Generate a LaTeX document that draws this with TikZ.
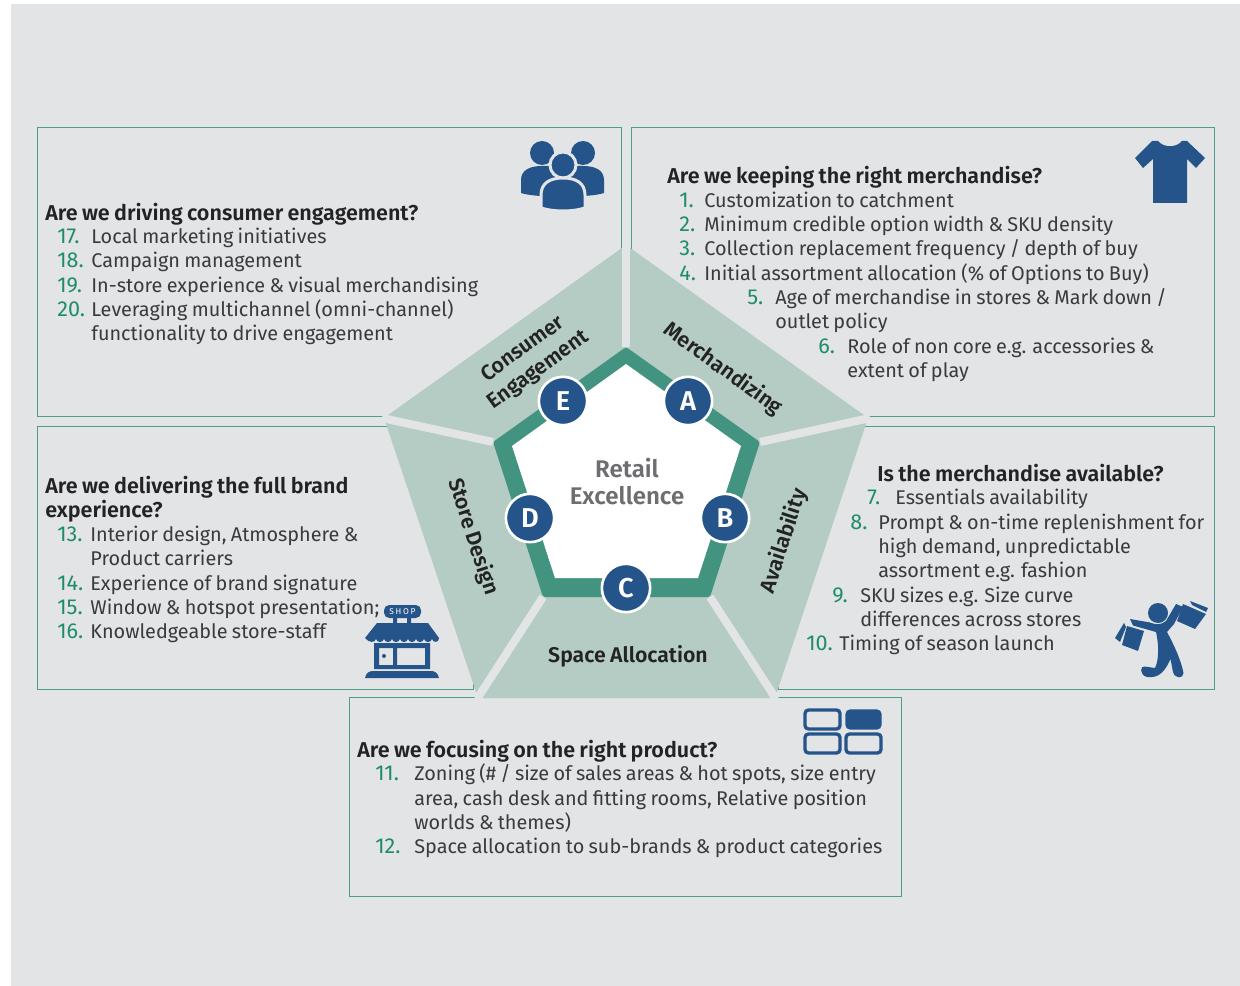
\documentclass[tikz,border=0pt]{standalone}
\usepackage{fontspec}
\setmainfont[WordSpace=0.82,BoldFont={Fira Sans SemiBold}]{Fira Sans}
\definecolor{bggray}{HTML}{E2E4E6}
\definecolor{boxline}{HTML}{4E9E8B}
\definecolor{sector}{HTML}{B5CCC4}
\definecolor{ring}{HTML}{429481}
\definecolor{navy}{HTML}{25548A}
\definecolor{numgreen}{HTML}{1E8C6A}
\definecolor{bodytext}{HTML}{3A3A3C}
\definecolor{headtext}{HTML}{232325}
\definecolor{midtext}{HTML}{6D6E71}
\tikzset{
  box/.style={draw=boxline,line width=.5pt},
  txt/.style={anchor=base west,inner sep=0pt,yshift=-.3pt,text=bodytext,font=\fontsize{11.3}{13}\selectfont},
  num/.style={txt,text=numgreen,font=\fontsize{12.3}{13}\selectfont},
  hd/.style={txt,yshift=-.3pt,text=headtext,font=\fontsize{12.25}{13}\selectfont\bfseries},
  sectorlabel/.style={inner sep=0pt,align=center,text=headtext,font=\fontsize{12.1}{14.8}\selectfont\bfseries},
  letter/.style={circle,fill=navy,draw=white,line width=1.5pt,minimum size=27.5pt,inner sep=0pt,text=white,font=\fontsize{15.5}{16}\selectfont\bfseries},
  split/.style={draw=bggray,line width=4.6pt},
  tile/.style={draw=navy,line width=1.9pt,rounded corners=2pt}
}
\begin{document}
\begin{tikzpicture}[x=.02cm,y=-.02cm]
\useasboundingbox (0,0) rectangle (1240,986);
\fill[bggray] (11,4) rectangle (1240,986);
\draw[box] (37.5,127) rectangle (621,416);
\draw[box] (631,127) rectangle (1214.5,416);
\draw[box] (37.5,426) rectangle (473,689);
\draw[box] (778,426) rectangle (1214.5,689);
\draw[box] (349.5,697) rectangle (901.5,896);
% pentagon
\coordinate (o1) at (626,245);
\coordinate (o2) at (868,418);
\coordinate (o3) at (775,698);
\coordinate (o4) at (478,698);
\coordinate (o5) at (384,418);
\coordinate (m1) at (626,347);
\coordinate (m2) at (760,442);
\coordinate (m3) at (710,597);
\coordinate (m4) at (543,597);
\coordinate (m5) at (493,442);
\fill[sector] (o1) -- (o2) -- (o3) -- (o4) -- (o5) -- cycle;
\draw[split] (m1) -- (626,243);
\draw[split] (m2) -- (870,418);
\draw[split] (m3) -- (776,699);
\draw[split] (m4) -- (477,699);
\draw[split] (m5) -- (382,418);
\fill[ring,rounded corners=1.5pt] (m1) -- (m2) -- (m3) -- (m4) -- (m5) -- cycle;
\fill[white] (626,364) -- (741,446) -- (698,578) -- (555,578) -- (512,446) -- cycle;
\node[letter] (a) at (688,401) {A};
\node[letter] (b) at (725,518) {B};
\node[letter] (c) at (626,588) {C};
\node[letter] (d) at (530,518) {D};
\node[letter] (e) at (563,401) {E};
\node[sectorlabel,text=midtext,font=\fontsize{13.7}{15.3}\selectfont\bfseries] (center) at (627,481.5) {Retail\\Excellence};
\node[sectorlabel,rotate=36] (consumer) at (531,360) {Consumer\\Engagement};
\node[sectorlabel,rotate=-36] (merch) at (723,369) {Merchandizing};
\node[sectorlabel,rotate=72] (avail) at (784,541) {Availability};
\node[sectorlabel,rotate=-72] (store) at (473,537) {Store Design};
\node[sectorlabel] (space) at (628,656) {Space Allocation};
% top left
\node[hd] (h5) at (45,219) {Are we driving consumer engagement?};
\node[num] (n17) at (57,243) {17.};
\node[txt] (t17) at (91,243) {Local marketing initiatives};
\node[num] (n18) at (57,267) {18.};
\node[txt] (t18) at (91,267) {Campaign management};
\node[num] (n19) at (57,292) {19.};
\node[txt] (t19) at (91,292) {In-store experience \& visual merchandising};
\node[num] (n20) at (57,316) {20.};
\node[txt] (t20) at (91,316) {Leveraging multichannel (omni-channel)};
\node[txt] (t20b) at (91,340) {functionality to drive engagement};
% top right
\node[hd] (h1) at (667,182) {Are we keeping the right merchandise?};
\node[num] (n1) at (679,207) {1.};
\node[txt] (t1) at (704,207) {Customization to catchment};
\node[num] (n2) at (679,231) {2.};
\node[txt] (t2) at (704,231) {Minimum credible option width \& SKU density};
\node[num] (n3) at (679,255) {3.};
\node[txt] (t3) at (704,255) {Collection replacement frequency / depth of buy};
\node[num] (n4) at (679,280) {4.};
\node[txt] (t4) at (704,280) {Initial assortment allocation (\% of Options to Buy)};
\node[num] (n5) at (747,304) {5.};
\node[txt] (t5) at (775,304) {Age of merchandise in stores \& Mark down /};
\node[txt] (t5b) at (775,328) {outlet policy};
\node[num] (n6) at (818,353) {6.};
\node[txt] (t6) at (847,353) {Role of non core e.g. accessories \&};
\node[txt] (t6b) at (847,377) {extent of play};
% middle right
\node[hd] (h2) at (877,480) {Is the merchandise available?};
\node[num] (n7) at (867,504) {7.};
\node[txt] (t7) at (895,504) {Essentials availability};
\node[num] (n8) at (850,529) {8.};
\node[txt] (t8) at (878,529) {Prompt \& on-time replenishment for};
\node[txt] (t8b) at (878,553) {high demand, unpredictable};
\node[txt] (t8c) at (878,577) {assortment e.g. fashion};
\node[num] (n9) at (832,602) {9.};
\node[txt] (t9) at (860,602) {SKU sizes e.g. Size curve};
\node[txt] (t9b) at (860,626) {differences across stores};
\node[num] (n10) at (806,650) {10.};
\node[txt] (t10) at (839,650) {Timing of season launch};
% middle left
\node[hd] (h4) at (45,492) {Are we delivering the full brand};
\node[hd] (h4b) at (45,516) {experience?};
\node[num] (n13) at (57,541) {13.};
\node[txt] (t13) at (90,541) {Interior design, Atmosphere \&};
\node[txt] (t13b) at (90,565) {Product carriers};
\node[num] (n14) at (57,590) {14.};
\node[txt] (t14) at (90,590) {Experience of brand signature};
\node[num] (n15) at (57,614) {15.};
\node[txt] (t15) at (90,614) {Window \& hotspot presentation;};
\node[num] (n16) at (57,638) {16.};
\node[txt] (t16) at (90,638) {Knowledgeable store-staff};
% bottom
\node[hd] (h3) at (357,756) {Are we focusing on the right product?};
\node[num] (n11) at (375,780) {11.};
\node[txt] (t11) at (414,780) {Zoning (\# / size of sales areas \& hot spots, size entry};
\node[txt] (t11b) at (414,805) {area, cash desk and fitting rooms, Relative position};
\node[txt] (t11c) at (414,829) {worlds \& themes)};
\node[num] (n12) at (375,853) {12.};
\node[txt] (t12) at (414,853) {Space allocation to sub-brands \& product categories};
% people icon
\fill[navy] (542,153) circle (12);
\fill[navy] (583,153) circle (12);
\fill[navy] (521,193) -- (521,180) .. controls (521,170) and (530,166) .. (542,166) -- (583,166) .. controls (595,166) and (604,170) .. (604,180) -- (604,193) .. controls (590,198) and (535,198) .. (521,193) -- cycle;
\fill[navy,draw=bggray,line width=1.7pt] (563,165) circle (13);
\fill[navy,draw=bggray,line width=1.7pt] (541,208) -- (541,195) .. controls (541,183) and (550,178) .. (563,178) .. controls (576,178) and (585,183) .. (585,195) -- (585,208) .. controls (572,212) and (554,212) .. (541,208) -- cycle;
% shirt icon
\fill[navy] (1152,141) -- (1158,141) .. controls (1164,148) and (1176,148) .. (1182,141) -- (1187,141) -- (1205,158) -- (1196,168) -- (1187,159) -- (1187,203) -- (1153,203) -- (1153,159) -- (1143,168) -- (1135,158) -- cycle;
% shop icon
\fill[navy,rounded corners=3pt] (384,605) rectangle (421,618);
\node[inner sep=0pt,text=white,font=\fontsize{4.8}{5}\selectfont\addfontfeature{LetterSpace=20}] (shop) at (402.5,611.5) {SHOP};
\fill[navy] (393,618) rectangle (397,623) (407,618) rectangle (411,623);
\fill[navy] (377,623) -- (428,623) -- (439,638) .. controls (439,643) and (433,643) .. (432,639) .. controls (431,643) and (425,643) .. (424,639) .. controls (423,643) and (417,643) .. (416,639) .. controls (415,643) and (409,643) .. (408,639) .. controls (407,643) and (401,643) .. (400,639) .. controls (399,643) and (393,643) .. (392,639) .. controls (391,643) and (385,643) .. (384,639) .. controls (383,643) and (377,643) .. (376,639) .. controls (375,643) and (369,643) .. (365,638) -- cycle;
\fill[navy,even odd rule] (374,643) rectangle (430,669) (379,648) rectangle (393,665) (397,648) rectangle (425,665);
\fill[navy] (384,656) circle (2);
\fill[navy] (365,678) .. controls (366,673) and (369,671) .. (373,671) -- (431,671) .. controls (435,671) and (438,673) .. (439,678) -- cycle;
% shopper icon
\fill[navy] (1158,613) circle (10);
\fill[navy] (1130,619) -- (1150,622.5) .. controls (1156,625) and (1161,625) .. (1166,621) -- (1176,604) -- (1183,607) -- (1174,624) -- (1167,632) .. controls (1174,645) and (1181,660) .. (1183.5,673) .. controls (1183.5,679) and (1175,679) .. (1173,672) -- (1170.5,659) .. controls (1166,669) and (1160,679) .. (1147,677) .. controls (1139,675) and (1140,665) .. (1145,666.5) -- (1155,668) .. controls (1159,660) and (1159,645) .. (1156,632) -- (1133,625.5) -- cycle;
\fill[navy] (1127,626) -- (1144,631) -- (1138,651) -- (1122,645) -- cycle;
\fill[navy] (1124,623) -- (1115,638) -- (1120,642) -- (1126,627) -- cycle;
\fill[navy] (1183,604) -- (1206,614) -- (1195,629) -- (1177,621) -- cycle;
\fill[navy] (1190,601) -- (1208,608) -- (1206,612) -- (1192,605) -- cycle;
% layout icon
\draw[tile] (805,710) rectangle (840,729);
\draw[tile,fill=navy] (847,711) rectangle (880,728);
\draw[tile] (805,734) rectangle (840,753);
\draw[tile] (846,734) rectangle (881,753);
\end{tikzpicture}
\end{document}
